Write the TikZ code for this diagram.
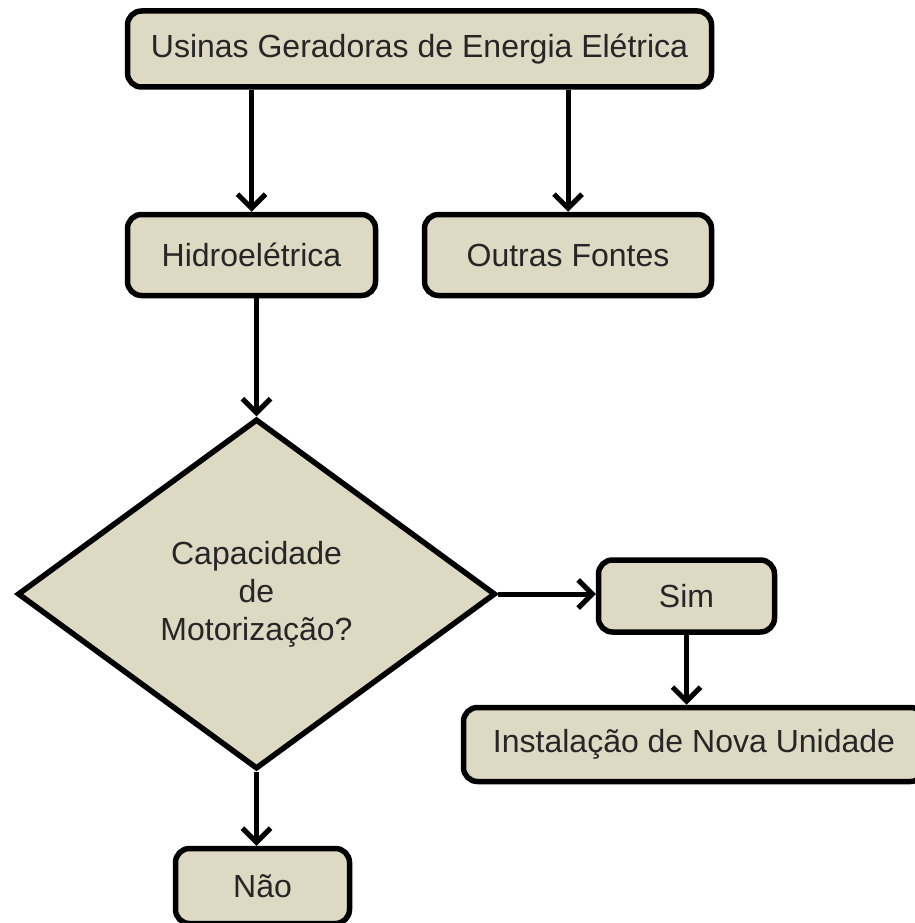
\documentclass[tikz,border=0pt]{standalone}
\usepackage{fontspec}
\setmainfont{Liberation Sans}
\usetikzlibrary{shapes.geometric, arrows.meta, positioning}
\definecolor{boxtan}{HTML}{DDD9C3}
\tikzstyle{block} = [rectangle, rounded corners=14pt, line width=5.5pt, draw=black, fill=boxtan, text=black!85, text centered, inner sep=0pt]
\tikzstyle{decision} = [diamond, line width=5.5pt, draw=black, fill=boxtan, text=black!85, align=center, inner sep=0pt]
\tikzstyle{arrow} = [line width=5pt, -{Straight Barb[length=14pt,width=28pt]}]

\begin{document}
\begin{tikzpicture}[x=1pt, y=-1pt, font=\fontsize{32}{38}\selectfont]
    \useasboundingbox (0,0) rectangle (914,923);
    \node (usinas) [block, minimum width=584pt, minimum height=76pt] at (419.5,49) {Usinas Geradoras de Energia Elétrica};
    \node (hidro) [block, minimum width=248pt, minimum height=81pt] at (251.5,255) {Hidroelétrica};
    \node (outras) [block, minimum width=287pt, minimum height=81pt] at (568,255) {Outras Fontes};
    \node (motor) [decision, minimum width=478pt, minimum height=350pt] at (256.5,594) {Capacidade\\de\\Motorização?};
    \node (sim) [block, minimum width=176pt, minimum height=72pt] at (686.5,596) {Sim};
    \node (nova) [block, minimum width=461pt, minimum height=74pt] at (694,744.5) {Instalação de Nova Unidade};
    \node (nao) [block, minimum width=174pt, minimum height=75pt] at (262.5,886) {Não};

    \draw [arrow] (usinas.south -| hidro.north) -- (hidro.north);
    \draw [arrow] (usinas.south -| outras.north) -- (outras.north);
    \draw [arrow] (hidro.south -| motor.north) -- (motor.north);
    \draw [arrow] (motor.east) -- (motor.east -| sim.west);
    \draw [arrow] (sim.south) -- (sim.south |- nova.north);
    \draw [arrow] (motor.south) -- (motor.south |- nao.north);
\end{tikzpicture}
\end{document}
